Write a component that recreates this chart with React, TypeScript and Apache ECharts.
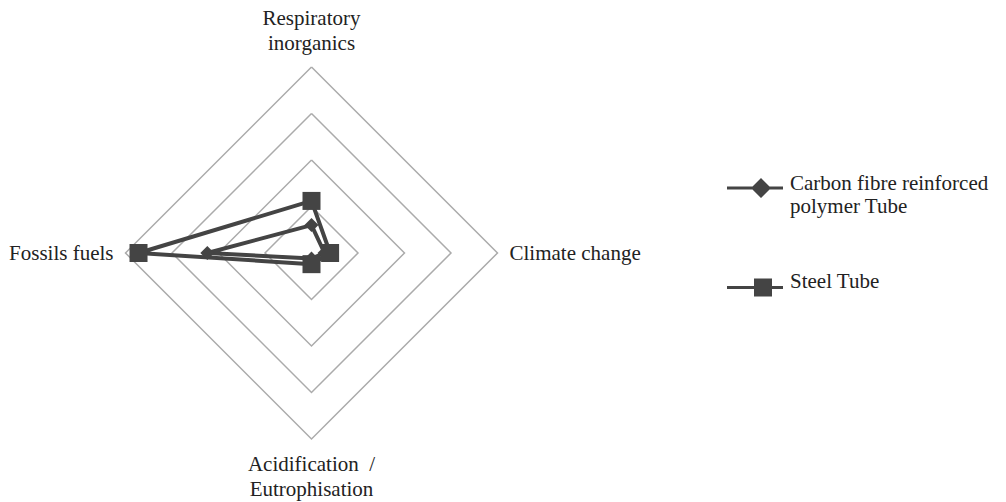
import React, { useEffect, useRef } from "react";
import * as echarts from "echarts";

const indicatorNames = [
  "Respiratory\ninorganics",
  "Fossils fuels",
  "Acidification  /\nEutrophisation",
  "Climate change",
];
const indicatorMax = [100, 100, 100, 100];
const cfrpValues = [15, 56, 3, 7];
const steelValues = [28, 93, 6, 10];
const seriesNames = ["Carbon fibre reinforced polymer Tube", "Steel Tube"];

const FONT = "Liberation Serif, Times New Roman, serif";
const DARK = "#444444";

const diamondIcon =
  "path://M0,8.5 L56,8.5 L56,11.5 L0,11.5 Z M34,0 L44,10 L34,20 L24,10 Z";
const squareIcon =
  "path://M0,8.5 L56,8.5 L56,11.5 L0,11.5 Z M27,1 L45,1 L45,19 L27,19 Z";

const legendText = {
  fontFamily: FONT,
  fontSize: 21,
  color: "#222",
  padding: [0, 0, 0, 2],
};

export default function App() {
  const ref = useRef<HTMLDivElement>(null);
  useEffect(() => {
    if (!ref.current) return;
    const chart = echarts.init(ref.current, null, { renderer: "svg" });
    chart.setOption({
      animation: false,
      backgroundColor: "#ffffff",
      legend: [
        {
          data: [{ name: seriesNames[0], icon: diamondIcon }],
          left: 722,
          top: 155,
          itemWidth: 56,
          itemHeight: 20,
          formatter: () =>
            "{s| }\n{a|Carbon fibre reinforced}\n{a|polymer Tube}",
          textStyle: {
            ...legendText,
            rich: {
              s: { lineHeight: 12, fontSize: 10 },
              a: { fontFamily: FONT, fontSize: 21, color: "#222", lineHeight: 23 },
            },
          },
          selectedMode: false,
        },
        {
          data: [{ name: seriesNames[1], icon: squareIcon }],
          left: 722,
          top: 265,
          itemWidth: 56,
          itemHeight: 20,
          formatter: () => "{a|Steel Tube}\n{s| }",
          textStyle: {
            ...legendText,
            rich: {
              s: { lineHeight: 14, fontSize: 10 },
              a: { fontFamily: FONT, fontSize: 21, color: "#222", lineHeight: 24 },
            },
          },
          selectedMode: false,
        },
      ],
      radar: {
        center: [311.5, 253],
        radius: 186,
        startAngle: 90,
        splitNumber: 4,
        shape: "polygon",
        indicator: indicatorNames.map((n, i) => ({ name: n, max: indicatorMax[i], min: 0 })),
        axisName: {
          color: "#222",
          fontFamily: FONT,
          fontSize: 21,
          lineHeight: 25,
        },
        nameGap: 12,
        axisLine: { show: false },
        axisTick: { show: false },
        axisLabel: { show: false },
        splitArea: { show: false },
        splitLine: { lineStyle: { color: "#ababab", width: 1.5 } },
      },
      series: [
        {
          type: "radar",
          data: [
            {
              name: seriesNames[0],
              value: cfrpValues,
              symbol: "diamond",
              symbolSize: 14,
              lineStyle: { color: DARK, width: 4 },
              itemStyle: { color: DARK },
            },
            {
              name: seriesNames[1],
              value: steelValues,
              symbol: "rect",
              symbolSize: 18,
              lineStyle: { color: DARK, width: 4 },
              itemStyle: { color: DARK },
            },
          ],
        },
      ],
    });
    return () => chart.dispose();
  }, []);
  return (
    <div
      ref={ref}
      style={{ position: "fixed", left: 0, top: 0, width: 1006, height: 502 }}
    />
  );
}
